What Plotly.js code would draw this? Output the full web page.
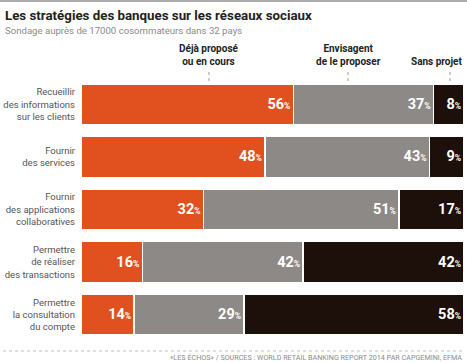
<!DOCTYPE html>
<html><head><meta charset="utf-8">
<script src="https://cdn.plot.ly/plotly-3.0.1.min.js"></script>
<style>html,body{margin:0;padding:0;background:#fff}#chart{width:467px;height:362px}</style>
</head><body><div id="chart"></div>
<script>
const categories = [
  "Recueillir<br>des informations<br>sur les clients",
  "Fournir<br>des services",
  "Fournir<br>des applications<br>collaboratives",
  "Permettre<br>de réaliser<br>des transactions",
  "Permettre<br>la consultation<br>du compte"
];
const seriesNames = ["Déjà proposé<br>ou en cours", "Envisagent<br>de le proposer", "Sans projet"];
const dejaPropose = [56, 48, 32, 16, 14];
const envisagent = [37, 43, 51, 42, 29];
const sansProjet = [8, 9, 17, 42, 58];
const colors = ["#E0511F", "#8D8987", "#1D0F09"];

const W = 467, H = 362;
const M = {l: 81, r: 3, t: 78, b: 21};
const pw = W - M.l - M.r, ph = H - M.t - M.b;
const px = x => (x - M.l) / pw;
const py = y => (H - M.b - y) / ph;

const series = [dejaPropose, envisagent, sansProjet];
const traces = series.map((vals, i) => ({
  type: "bar",
  orientation: "h",
  y: categories,
  x: vals,
  text: vals.map(String),
  texttemplate: "<b>%{text}</b><span style='font-size:8.5px'><b>%</b></span>",
  textposition: "inside",
  insidetextanchor: "end",
  constraintext: "none",
  textfont: {family: "Roboto, sans-serif", size: 14.5, color: "#ffffff"},
  marker: {color: colors[i], line: {color: "#ffffff", width: 1.5}},
  hoverinfo: "skip",
  name: seriesNames[i]
}));

const headerX = [209, 348, 450];
const headerAnchorX = [209, 348, 465];
const headerAnchor = ["center", "center", "right"];
const annotations = [
  {text: "<b>Les stratégies des banques sur les réseaux sociaux</b>", x: px(3), y: py(16), xanchor: "left", yanchor: "middle",
   font: {family: "Roboto, sans-serif", size: 13.3, color: "#222"}},
  {text: "Sondage auprès de 17000 cosommateurs dans 32 pays", x: px(3), y: py(31), xanchor: "left", yanchor: "middle",
   font: {family: "Roboto, sans-serif", size: 9.6, color: "#8a8a8a"}},
  {text: "«LES ÉCHOS» / SOURCES : WORLD RETAIL BANKING REPORT 2014 PAR CAPGEMINI, EFMA", x: px(464), y: py(357), xanchor: "right", yanchor: "middle",
   font: {family: "Roboto, sans-serif", size: 7.2, color: "#8a8a8a"}}
];
seriesNames.forEach((n, i) => {
  annotations.push({text: "<b>" + n + "</b>", x: px(headerAnchorX[i]), y: py(69), xanchor: headerAnchor[i], yanchor: "bottom",
    font: {family: "Roboto, sans-serif", size: 10, color: "#222"}});
});
annotations.forEach(a => { a.xref = "paper"; a.yref = "paper"; a.showarrow = false; });

const shapes = [
  {type: "line", xref: "paper", yref: "paper", x0: px(0), x1: px(467), y0: py(1), y1: py(1), line: {color: "#aaa", width: 2}},
  {type: "line", xref: "paper", yref: "paper", x0: px(3), x1: px(464), y0: py(351), y1: py(351), line: {color: "#bbb", width: 1, dash: "dot"}}
];
headerX.forEach(x => shapes.push({type: "line", xref: "paper", yref: "paper", x0: px(x), x1: px(x), y0: py(72), y1: py(83),
  line: {color: "#999", width: 1, dash: "dot"}}));

const layout = {
  width: W, height: H,
  margin: M,
  barmode: "stack",
  barnorm: "percent",
  bargap: 0.22,
  showlegend: false,
  paper_bgcolor: "#fff", plot_bgcolor: "#fff",
  xaxis: {range: [0, 100], visible: false, fixedrange: true},
  yaxis: {autorange: "reversed", showgrid: false, zeroline: false, showline: false, ticks: "",
    ticklabelstandoff: 5, tickfont: {family: "Roboto, sans-serif", size: 9.5, color: "#555"}},
  annotations: annotations,
  shapes: shapes,
  font: {family: "Roboto, sans-serif"}
};
Plotly.newPlot("chart", traces, layout, {staticPlot: true, displayModeBar: false});
</script></body></html>
